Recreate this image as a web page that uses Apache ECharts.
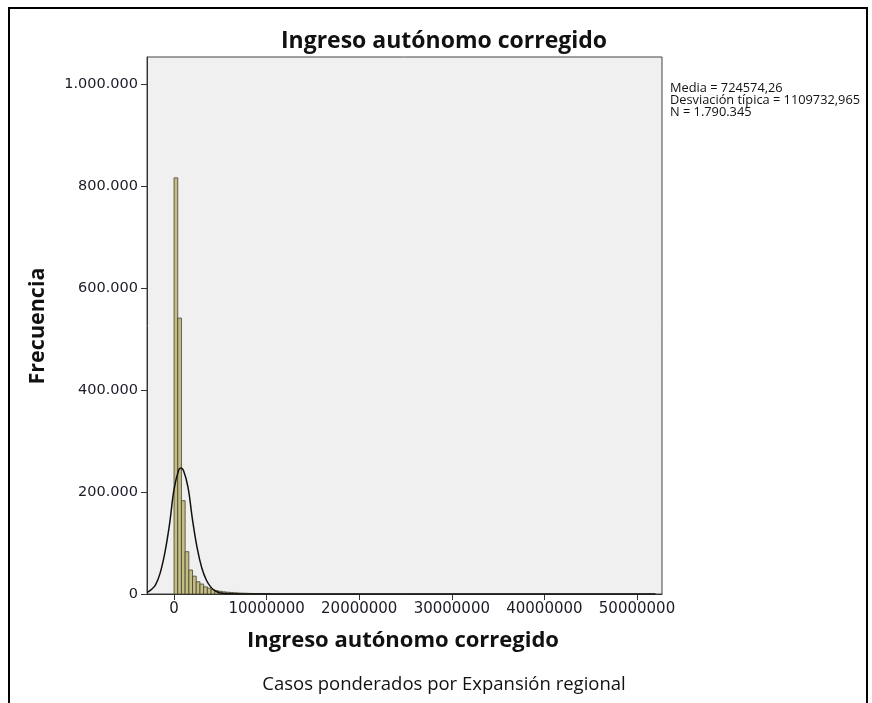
<!DOCTYPE html>
<html>
<head>
<meta charset="utf-8">
<title>Ingreso autónomo corregido</title>
<script src="https://cdn.jsdelivr.net/npm/echarts@6/dist/echarts.min.js"></script>
<style>
  html, body { margin: 0; padding: 0; background: #fff; }
  #chart { width: 872px; height: 703px; }
</style>
</head>
<body>
<div id="chart"></div>
<script>
// histogram bins (left edge of each bin, all bins same width)
var binWidth = 400000;
var binStarts = [0, 400000, 800000, 1200000, 1600000, 2000000, 2400000, 2800000, 3200000,
  3600000, 4000000, 4400000, 4800000, 5200000, 5600000, 6000000, 6400000, 6800000,
  7200000, 7600000, 8000000, 8400000, 8800000, 9200000, 9600000, 10000000];
var binCounts = [816000, 541000, 183000, 83000, 47000, 35000, 24000, 19500, 14000,
  11500, 8500, 6500, 5200, 4200, 3500, 3000, 2400, 2000,
  1700, 1400, 1200, 1000, 900, 800, 700, 600];

// normal curve
var curveX = [-2900000, -2500000, -2000000, -1500000, -1000000, -500000, 0, 500000, 725000,
  1000000, 1500000, 2000000, 2500000, 3000000, 3500000, 4000000, 4500000, 5000000,
  6000000, 8000000, 52000000];
var curveY = [3000, 8000, 18000, 41000, 80000, 135000, 205000, 243000, 247000,
  243000, 210000, 145000, 90000, 51000, 27000, 13000, 5500, 2000,
  300, 0, 0];

var xTicks = [0, 10000000, 20000000, 30000000, 40000000, 50000000];
var yTicks = [0, 200000, 400000, 600000, 800000, 1000000];

var statLines = ["Media = 724574,26", "Desviación típica = 1109732,965", "N = 1.790.345"];

var chart = echarts.init(document.getElementById("chart"));

var bars = [];
for (var i = 0; i < binStarts.length; i++) {
  bars.push([binStarts[i], binStarts[i] + binWidth, binCounts[i]]);
}
var curve = [];
for (var j = 0; j < curveX.length; j++) {
  curve.push([curveX[j], curveY[j]]);
}

function dots(v) {
  return String(v).replace(/\B(?=(\d{3})+(?!\d))/g, ".");
}

var font = "'Open Sans', sans-serif";

chart.setOption({
  animation: false,
  grid: {
    left: 147,
    top: 57,
    right: 210,
    bottom: 109,
    show: true,
    backgroundColor: "#f0f0f0",
    borderColor: "#444",
    borderWidth: 1
  },
  xAxis: {
    type: "value",
    min: -2920000,
    max: 52700000,
    splitLine: { show: false },
    axisLine: { show: true, onZero: false, lineStyle: { color: "#333", width: 1 } },
    axisTick: { show: true, length: 6, customValues: xTicks, lineStyle: { color: "#333" } },
    axisLabel: {
      customValues: xTicks,
      formatter: function (v) { return String(v); },
      color: "#1c1c28",
      fontFamily: "DejaVu Sans",
      fontSize: 15,
      margin: 8
    }
  },
  yAxis: {
    type: "value",
    min: 0,
    max: 1053000,
    splitLine: { show: false },
    axisLine: { show: true, onZero: false, lineStyle: { color: "#333", width: 1 } },
    axisTick: { show: true, length: 6, customValues: yTicks, lineStyle: { color: "#333" } },
    axisLabel: {
      customValues: yTicks,
      formatter: function (v) { return dots(v); },
      color: "#1c1c28",
      fontFamily: "DejaVu Sans",
      fontSize: 14.5,
      margin: 9
    }
  },
  series: [
    {
      type: "custom",
      data: bars,
      encode: { x: [0, 1], y: 2 },
      renderItem: function (params, api) {
        var p0 = api.coord([api.value(0), api.value(2)]);
        var p1 = api.coord([api.value(1), 0]);
        return {
          type: "rect",
          shape: { x: p0[0], y: p0[1], width: p1[0] - p0[0], height: p1[1] - p0[1] },
          style: { fill: "#c4bd85", stroke: "#45412d", lineWidth: 0.8 }
        };
      }
    },
    {
      type: "line",
      data: curve,
      smooth: 0.4,
      symbol: "none",
      lineStyle: { color: "#111", width: 1.5 },
      z: 5
    }
  ],
  graphic: [
    { type: "rect", shape: { x: 8, y: 7, width: 2, height: 700 }, style: { fill: "#000" } },
    { type: "rect", shape: { x: 8, y: 7, width: 860, height: 2 }, style: { fill: "#000" } },
    { type: "rect", shape: { x: 866, y: 7, width: 2, height: 700 }, style: { fill: "#000" } },
    {
      type: "text",
      position: [444, 41],
      style: { text: "Ingreso autónomo corregido", align: "center", verticalAlign: "middle",
        font: "bold 23px " + font, fill: "#111" }
    },
    {
      type: "text",
      position: [403, 641],
      style: { text: "Ingreso autónomo corregido", align: "center", verticalAlign: "middle",
        font: "bold 22px " + font, fill: "#111" }
    },
    {
      type: "text",
      position: [38, 326],
      rotation: Math.PI / 2,
      style: { text: "Frecuencia", align: "center", verticalAlign: "middle",
        font: "bold 21.5px " + font, fill: "#111" }
    },
    {
      type: "text",
      position: [444, 685],
      style: { text: "Casos ponderados por Expansión regional", align: "center", verticalAlign: "middle",
        font: "18.5px " + font, fill: "#111" }
    },
    {
      type: "text",
      position: [670, 100],
      style: { text: statLines.join("\n"), align: "left", verticalAlign: "middle",
        font: "12.8px " + font, lineHeight: 12, fill: "#111" }
    }
  ]
});
</script>
</body>
</html>
